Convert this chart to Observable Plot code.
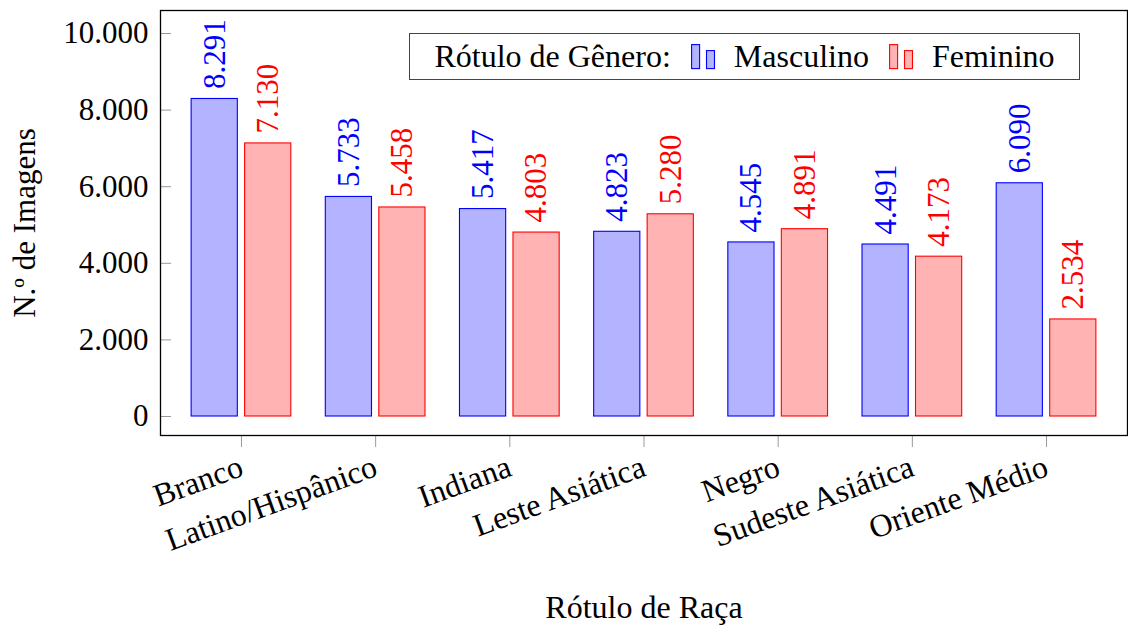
<!DOCTYPE html>
<html>
<head>
<meta charset="utf-8">
<script src="https://cdn.jsdelivr.net/npm/d3@7"></script>
<script src="https://cdn.jsdelivr.net/npm/@observablehq/plot@0.6"></script>
<style>
  html, body { margin: 0; padding: 0; background: white; }
  #wrap { position: relative; width: 1128px; height: 625px; font-family: "Liberation Serif", serif; }
  #wrap svg text { font-family: "Liberation Serif", serif !important; font-variant: normal !important; font-variant-numeric: normal !important; }
  #legend {
    position: absolute; left: 409px; top: 33px; width: 671px; height: 47px;
    border: 1.3px solid #444; background: white; box-sizing: border-box;
    display: flex; align-items: center; justify-content: center;
    font-size: 32px; color: black; white-space: nowrap;
  }
  #legend .sw { margin: 0 18px 0 20px; display: block; }
</style>
</head>
<body>
<div id="wrap"><div id="chart"></div><div id="legend"></div></div>
<script>
const races = ["Branco", "Latino/Hispânico", "Indiana", "Leste Asiática", "Negro", "Sudeste Asiática", "Oriente Médio"];
const genders = ["Masculino", "Feminino"];
const masculino = [8291, 5733, 5417, 4823, 4545, 4491, 6090];
const feminino = [7130, 5458, 4803, 5280, 4891, 4173, 2534];
const yTicks = [0, 2000, 4000, 6000, 8000, 10000];
const legendTitle = "Rótulo de Gênero:";

const fills = {Masculino: "#b3b3ff", Feminino: "#ffb3b3"};
const strokes = {Masculino: "#0000ff", Feminino: "#ff0000"};

const locale = d3.formatLocale({decimal: ",", thousands: ".", grouping: [3], currency: ["R$", ""]});
const fmt = locale.format(",d");

const rows = races.flatMap((r, i) => [
  {race: r, gender: "Masculino", count: masculino[i]},
  {race: r, gender: "Feminino", count: feminino[i]}
]);
const mRows = rows.filter(d => d.gender === "Masculino");
const fRows = rows.filter(d => d.gender === "Feminino");

const FS = 31;
const FF = "Liberation Serif";
const chart = Plot.plot({
  width: 1128,
  height: 625,
  marginLeft: 160,
  marginRight: 1,
  marginTop: 10,
  marginBottom: 190,
  style: {fontFamily: FF, fontSize: FS + "px", background: "white", color: "black"},
  x: {domain: races, paddingInner: 0.257, paddingOuter: 0.232, round: false},
  y: {domain: [-496, 10601]},
  marks: [
    Plot.barY(mRows, {x: "race", y: "count", fill: fills.Masculino, stroke: strokes.Masculino, strokeWidth: 1.1, insetRight: 53.5}),
    Plot.barY(fRows, {x: "race", y: "count", fill: fills.Feminino, stroke: strokes.Feminino, strokeWidth: 1.1, insetLeft: 53.5}),
    Plot.text(mRows, {x: "race", y: "count", text: d => fmt(d.count), rotate: -90, textAnchor: "start", dx: -26.75, dy: -10, fill: strokes.Masculino, fontSize: FS, fontFamily: FF, fontVariant: "normal"}),
    Plot.text(fRows, {x: "race", y: "count", text: d => fmt(d.count), rotate: -90, textAnchor: "start", dx: 26.75, dy: -10, fill: strokes.Feminino, fontSize: FS, fontFamily: FF, fontVariant: "normal"}),
    Plot.axisY({ticks: yTicks, tickFormat: fmt, tickSize: -11, tickPadding: 23, stroke: "#999", fill: "black", fontSize: FS, fontFamily: FF,
      label: "N.º de Imagens", labelAnchor: "center", labelArrow: "none", labelOffset: 148}),
    Plot.axisX({tickSize: 12, tickRotate: -20, tickPadding: 18, stroke: "#999", fill: "black", fontSize: 32, fontFamily: FF,
      label: "Rótulo de Raça", labelAnchor: "center", labelArrow: "none", labelOffset: 182}),
    Plot.frame({stroke: "black", strokeWidth: 1.3})
  ]
});
document.getElementById("chart").appendChild(chart);

// legend
const leg = document.getElementById("legend");
const title = document.createElement("span");
title.textContent = legendTitle;
leg.appendChild(title);
genders.forEach((g, i) => {
  const ns = "http://www.w3.org/2000/svg";
  const svg = document.createElementNS(ns, "svg");
  svg.setAttribute("width", 25); svg.setAttribute("height", 26);
  svg.setAttribute("class", "sw");
  [[0.6, 0.6, 8, 24], [15.5, 6.6, 8, 18]].forEach(([x, y, w, h]) => {
    const r = document.createElementNS(ns, "rect");
    r.setAttribute("x", x); r.setAttribute("y", y); r.setAttribute("width", w); r.setAttribute("height", h);
    r.setAttribute("fill", fills[g]); r.setAttribute("stroke", strokes[g]); r.setAttribute("stroke-width", 1.1);
    svg.appendChild(r);
  });
  leg.appendChild(svg);
  const t = document.createElement("span");
  t.textContent = g;
  leg.appendChild(t);
});
</script>
</body>
</html>
